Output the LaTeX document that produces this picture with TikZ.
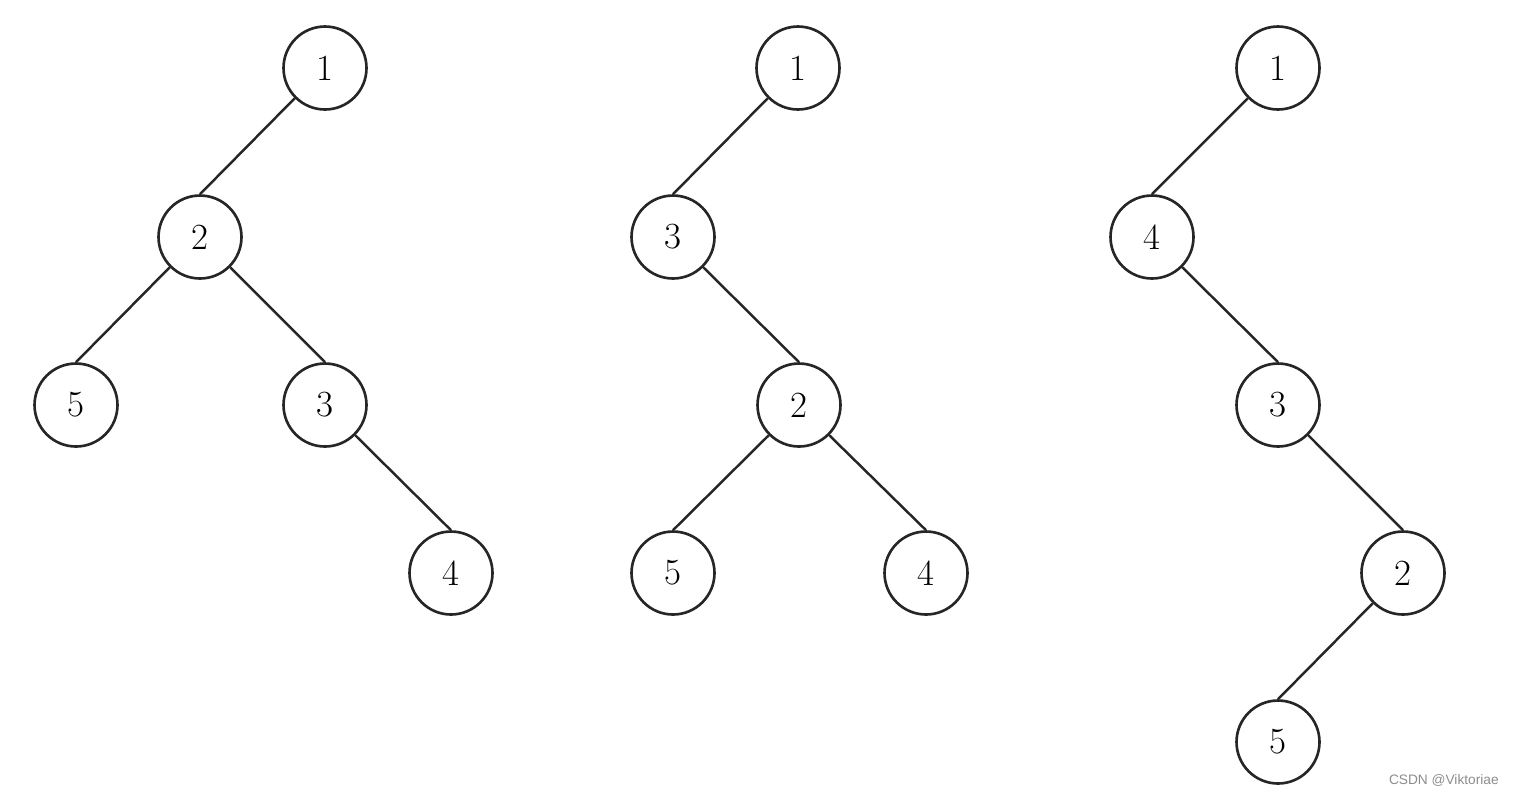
\documentclass[tikz,border=0pt]{standalone}
\usepackage{fontspec}
\newfontfamily\wmfont{Liberation Sans}
\usepackage{tikz}
\usetikzlibrary{positioning}

\begin{document}
\begin{tikzpicture}[x=0.02cm, y=-0.02cm,
    vert/.style={circle, draw=black!85, line width=1.5pt, minimum size=1.66cm,
        inner sep=0pt, font=\fontsize{21}{25}\selectfont},
    edge/.style={draw=black!85, line width=1.4pt}]

\useasboundingbox (0,0) rectangle (1514,796);

% Tree 1
\node[vert] (a1) at (325,68) {1};
\node[vert] (a2) at (200,237) {2};
\node[vert] (a5) at (76,405) {5};
\node[vert] (a3) at (325,405) {3};
\node[vert] (a4) at (451,573) {4};
\draw[edge] (a1.south west) -- (a2.north);
\draw[edge] (a2.south west) -- (a5.north);
\draw[edge] (a2.south east) -- (a3.north);
\draw[edge] (a3.south east) -- (a4.north);

% Tree 2
\node[vert] (b1) at (798,68) {1};
\node[vert] (b3) at (673,237) {3};
\node[vert] (b2) at (799,405) {2};
\node[vert] (b5) at (673,573) {5};
\node[vert] (b4) at (926,573) {4};
\draw[edge] (b1.south west) -- (b3.north);
\draw[edge] (b3.south east) -- (b2.north);
\draw[edge] (b2.south west) -- (b5.north);
\draw[edge] (b2.south east) -- (b4.north);

% Tree 3
\node[vert] (c1) at (1278,68) {1};
\node[vert] (c4) at (1152,237) {4};
\node[vert] (c3) at (1278,405) {3};
\node[vert] (c2) at (1403,573) {2};
\node[vert] (c5) at (1278,742) {5};
\draw[edge] (c1.south west) -- (c4.north);
\draw[edge] (c4.south east) -- (c3.north);
\draw[edge] (c3.south east) -- (c2.north);
\draw[edge] (c2.south west) -- (c5.north);

% Watermark
\node[text=black!45, font=\wmfont\fontsize{7.8}{9}\selectfont, anchor=east, inner sep=0pt] (wm) at (1499,780) {CSDN @Viktoriae};

\end{tikzpicture}
\end{document}
